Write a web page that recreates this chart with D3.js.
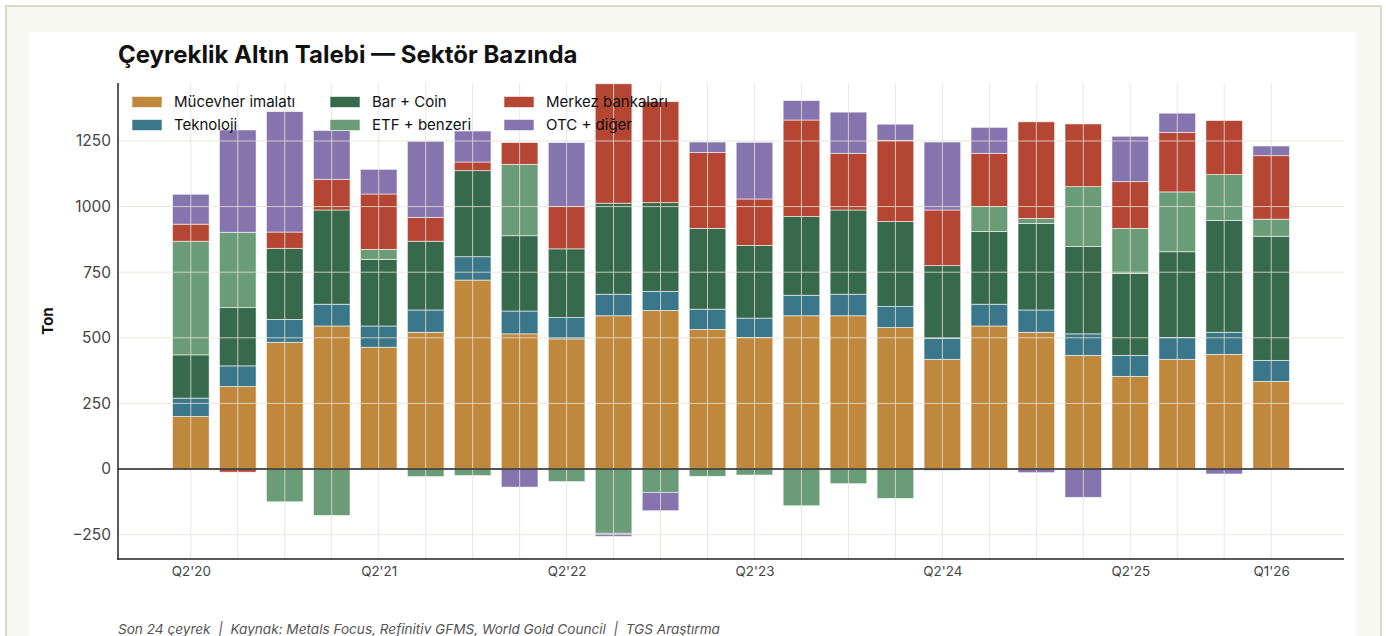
<!DOCTYPE html>
<html>
<head>
<meta charset="utf-8">
<script src="https://cdn.jsdelivr.net/npm/d3@7"></script>
<style>
  html, body { margin: 0; padding: 0; background: #fff; }
  svg { display: block; font-family: Inter, "Noto Sans", sans-serif; }
</style>
</head>
<body>
<svg id="chart" width="1386" height="636"></svg>
<script>
// quarterly demand by sector, tonnes
const quarters = ["Q2'20", "Q3'20", "Q4'20", "Q1'21", "Q2'21", "Q3'21", "Q4'21", "Q1'22",
  "Q2'22", "Q3'22", "Q4'22", "Q1'23", "Q2'23", "Q3'23", "Q4'23", "Q1'24",
  "Q2'24", "Q3'24", "Q4'24", "Q1'25", "Q2'25", "Q3'25", "Q4'25", "Q1'26"];

const mucevher = [200, 314, 483, 545, 464, 521, 720, 515, 496, 584, 604, 532, 501, 584, 584, 539, 418, 545, 521, 433, 353, 418, 437, 334];
const teknoloji = [70, 79, 87, 83, 81, 85, 89, 87, 81, 82, 73, 77, 74, 78, 82, 80, 80, 83, 85, 82, 80, 83, 84, 80];
const barCoin = [165, 222, 271, 359, 254, 262, 328, 287, 262, 347, 338, 308, 277, 300, 321, 324, 277, 277, 330, 333, 312, 327, 426, 473];
const etf = [433, 287, -125, -177, 38, -29, -25, 272, -48, -245, -89, -28, -23, -140, -56, -112, -6, 95, 19, 228, 172, 228, 175, 65];
const merkez = [65, -12, 62, 117, 211, 91, 33, 83, 161, 455, 385, 289, 177, 368, 216, 309, 212, 203, 368, 239, 178, 227, 206, 242];
const otc = [114, 390, 459, 186, 94, 290, 118, -69, 244, -12, -70, 40, 216, 74, 157, 62, 259, 99, -14, -108, 173, 73, -19, 37];

const seriesNames = ["Mücevher imalatı", "Teknoloji", "Bar + Coin", "ETF + benzeri", "Merkez bankaları", "OTC + diğer"];
const seriesValues = [mucevher, teknoloji, barCoin, etf, merkez, otc];
const seriesColors = ["#c0883c", "#3b778b", "#376a4c", "#6a9c78", "#b54633", "#8574ae"];

const labelQuarters = ["Q2'20", "Q2'21", "Q2'22", "Q2'23", "Q2'24", "Q2'25", "Q1'26"];
const yTicks = [-250, 0, 250, 500, 750, 1000, 1250];

const svg = d3.select('#chart');

const plot = {left: 118, right: 1344, top: 83, bottom: 559};

// page frame + card
svg.append('rect')
  .attr('x', 6).attr('y', 6).attr('width', 1375).attr('height', 700)
  .attr('fill', '#f8f8f2').attr('stroke', '#dcd9c9').attr('stroke-width', 2);
svg.append('rect')
  .attr('x', 29).attr('y', 32).attr('width', 1327).attr('height', 700)
  .attr('fill', '#fff');

const rows = quarters.map((q, i) => {
  const r = {quarter: q, i: i};
  seriesNames.forEach((name, k) => { r[name] = seriesValues[k][i]; });
  return r;
});

const stacked = d3.stack()
  .keys(seriesNames)
  .offset(d3.stackOffsetDiverging)(rows);

const x = d3.scaleLinear()
  .domain([-1.55, quarters.length - 1 + 1.55])
  .range([plot.left, plot.right]);

const y = d3.scaleLinear()
  .domain([-343, 1471])
  .range([plot.bottom, plot.top]);

const barW = x(0.78) - x(0);

svg.append('clipPath').attr('id', 'plotClip')
  .append('rect')
  .attr('x', plot.left).attr('y', plot.top)
  .attr('width', plot.right - plot.left).attr('height', plot.bottom - plot.top);

const bars = svg.append('g').attr('clip-path', 'url(#plotClip)');

bars.selectAll('g.series')
  .data(stacked)
  .join('g')
  .attr('class', 'series')
  .attr('fill', (d, k) => seriesColors[k])
  .selectAll('rect')
  .data(d => d)
  .join('rect')
  .attr('x', d => x(d.data.i) - barW / 2)
  .attr('width', barW)
  .attr('y', d => y(Math.max(d[0], d[1])))
  .attr('height', d => Math.abs(y(d[0]) - y(d[1])))
  .attr('stroke', '#fff')
  .attr('stroke-opacity', 0.7)
  .attr('stroke-width', 0.8);

// grid drawn over the bars, light
const grid = svg.append('g')
  .attr('stroke', '#e6e1d4')
  .attr('stroke-opacity', 0.8)
  .attr('stroke-width', 1);

grid.selectAll('line.h')
  .data(yTicks)
  .join('line')
  .attr('class', 'h')
  .attr('x1', plot.left).attr('x2', plot.right)
  .attr('y1', d => y(d)).attr('y2', d => y(d));

grid.selectAll('line.v')
  .data(quarters.map((q, i) => i))
  .join('line')
  .attr('class', 'v')
  .attr('x1', d => x(d)).attr('x2', d => x(d))
  .attr('y1', plot.top).attr('y2', plot.bottom);

// zero line
svg.append('line')
  .attr('x1', plot.left).attr('x2', plot.right)
  .attr('y1', y(0)).attr('y2', y(0))
  .attr('stroke', '#222').attr('stroke-width', 1.5);

// axes
const yAxis = svg.append('g')
  .attr('transform', `translate(${plot.left},0)`)
  .call(d3.axisLeft(y).tickValues(yTicks).tickSize(0).tickPadding(7)
    .tickFormat(d => d < 0 ? '\u2212' + Math.abs(d) : d));

const xAxis = svg.append('g')
  .attr('transform', `translate(0,${plot.bottom})`)
  .call(d3.axisBottom(x)
    .tickValues(quarters.map((q, i) => i).filter(i => labelQuarters.includes(quarters[i])))
    .tickSize(0).tickPadding(7)
    .tickFormat(i => quarters[i]));

[yAxis, xAxis].forEach(a => {
  a.select('.domain').remove();
  a.selectAll('text').attr('fill', '#444').style('font-family', 'Inter, sans-serif');
});
yAxis.selectAll('text').style('font-size', '15.5px');
xAxis.selectAll('text').style('font-size', '13.4px');

svg.append('line')
  .attr('x1', plot.left).attr('x2', plot.left)
  .attr('y1', plot.top).attr('y2', plot.bottom + 0.75)
  .attr('stroke', '#222').attr('stroke-width', 1.5);
svg.append('line')
  .attr('x1', plot.left - 0.75).attr('x2', plot.right)
  .attr('y1', plot.bottom).attr('y2', plot.bottom)
  .attr('stroke', '#222').attr('stroke-width', 1.5);

// y label
svg.append('text')
  .attr('transform', `translate(53,${(plot.top + plot.bottom) / 2}) rotate(-90)`)
  .attr('text-anchor', 'middle')
  .style('font-size', '15px').style('font-weight', 700)
  .attr('fill', '#111')
  .text('Ton');

// title
svg.append('text')
  .attr('x', plot.left).attr('y', 63)
  .style('font-size', '24px').style('font-weight', 700)
  .attr('fill', '#111')
  .text('Çeyreklik Altın Talebi — Sektör Bazında');

// legend, 3 columns x 2 rows, column-major
const legendCols = [132, 330, 504];
const legendRows = [102, 125];
const legend = svg.append('g');
seriesNames.forEach((name, k) => {
  const cx = legendCols[Math.floor(k / 2)];
  const cy = legendRows[k % 2];
  legend.append('rect')
    .attr('x', cx).attr('y', cy - 5.5)
    .attr('width', 30).attr('height', 11)
    .attr('fill', seriesColors[k])
    .attr('stroke', '#fff').attr('stroke-opacity', 0.7).attr('stroke-width', 0.8);
  legend.append('text')
    .attr('x', cx + 42).attr('y', cy)
    .attr('dy', '0.35em')
    .style('font-size', '15px')
    .attr('fill', '#111')
    .text(name);
});

// footer
svg.append('text')
  .attr('x', plot.left).attr('y', 634)
  .style('font-size', '13.6px').style('font-style', 'italic')
  .attr('fill', '#555')
  .text('Son 24 çeyrek  |  Kaynak: Metals Focus, Refinitiv GFMS, World Gold Council  |  TGS Araştırma')
  .attr('xml:space', 'preserve')
  .style('white-space', 'pre');
</script>
</body>
</html>
